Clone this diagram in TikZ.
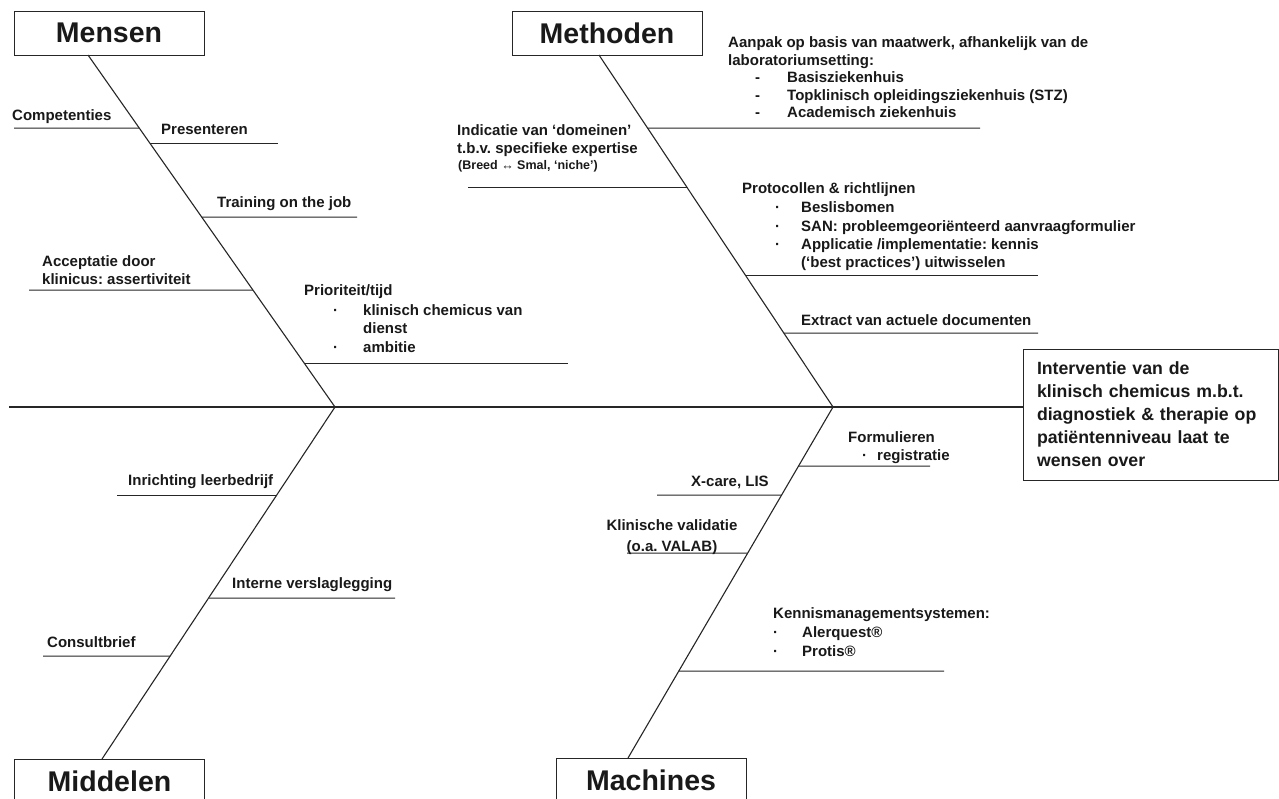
\documentclass[tikz,border=0pt]{standalone}
\usepackage{fontspec}
\setmainfont{Liberation Sans}
\usetikzlibrary{calc}
\frenchspacing
\newcommand{\lblfont}{\fontsize{15}{18}\selectfont\bfseries}
\newcommand{\smallfont}{\fontsize{12.5}{14}\selectfont\bfseries}
\newcommand{\titlefont}{\fontsize{28.5}{32}\selectfont\bfseries}
\newcommand{\effectfont}{\fontsize{17.7}{23}\selectfont\bfseries}
\begin{document}
\begin{tikzpicture}[x=1pt,y=-1pt,
  bone/.style={line width=1.1pt, draw=black!85},
  branch/.style={line width=1pt, draw=black!85},
  titlebox/.style={draw=black!85, line width=1pt, minimum width=190pt, minimum height=44pt, inner sep=0pt, font=\titlefont, text=black!90},
  lbl/.style={inner sep=0pt, anchor=base west, font=\lblfont, text=black!90},
  lblc/.style={inner sep=0pt, anchor=base, font=\lblfont, text=black!90},
  smalllbl/.style={inner sep=0pt, anchor=base west, font=\smallfont, text=black!90},
  effectbox/.style={draw=black!85, line width=1pt, minimum width=255pt, minimum height=131pt, text width=227pt, inner xsep=14pt, inner ysep=0pt, align=left, font=\effectfont, text=black!90}
]
\clip (0,0) rectangle (1279,798);
\fill[white] (0,0) rectangle (1279,798);

% ---- title boxes ----
\node[titlebox] (mensen) at (109,33) {Mensen};
\node[titlebox] (methoden) at (607,33) {Methoden};
\node[titlebox] (middelen) at (109.5,781) {Middelen};
\node[titlebox] (machines) at (651,780) {Machines};

% ---- effect box ----
\node[effectbox] (effect) at (1150.5,414.5) {Interventie van de\\klinisch chemicus m.b.t.\\diagnostiek \& therapie op\\patiëntenniveau laat te\\wensen over};

% ---- spine coordinates ----
\coordinate (start) at (9,407);
\coordinate (J1) at (335,407);
\coordinate (J2) at (833,407);
\coordinate (m0) at (88,55);
\coordinate (t0) at (599,55);
\coordinate (d0) at (102,759);
\coordinate (c0) at (628,758);

% main line
\draw[bone] (start) -- (J1) -- (J2) -- (J2 -| effect.west);
% spines
\draw[bone] (m0) -- (J1);
\draw[bone] (t0) -- (J2);
\draw[bone] (J1) -- (d0);
\draw[bone] (J2) -- (c0);

% ---- Mensen branches ----
\draw[branch] ($(m0)!{73/352}!(J1)$) -- (14,128);
\draw[branch] ($(m0)!{88/352}!(J1)$) -- (278,143);
\draw[branch] ($(m0)!{162/352}!(J1)$) -- (357,217);
\draw[branch] ($(m0)!{235/352}!(J1)$) -- (29,290);
\draw[branch] ($(m0)!{308/352}!(J1)$) -- (568,363);

\node[lbl] (comp) at (12,120) {Competenties};
\node[lbl] (pres) at (161,134) {Presenteren};
\node[lbl] (train) at (217,207) {Training on the job};
\node[lbl] (acc1) at (42,266) {Acceptatie door};
\node[lbl] (acc2) at (42,284) {klinicus: assertiviteit};
\node[lbl] (prio) at (304,295) {Prioriteit/tijd};
\node[lbl] (prb1) at (333,315) {·};
\node[lbl] (pri1) at (363,315) {klinisch chemicus van};
\node[lbl] (pri1b) at (363,333) {dienst};
\node[lbl] (prb2) at (333,352) {·};
\node[lbl] (pri2) at (363,352) {ambitie};

% ---- Methoden branches ----
\draw[branch] ($(t0)!{73/352}!(J2)$) -- (980,128);
\draw[branch] ($(t0)!{132/352}!(J2)$) -- (468,187);
\draw[branch] ($(t0)!{220/352}!(J2)$) -- (1038,275);
\draw[branch] ($(t0)!{278/352}!(J2)$) -- (1038,333);

\node[lbl] (aan1) at (728,47) {Aanpak op basis van maatwerk, afhankelijk van de};
\node[lbl] (aan2) at (728,65) {laboratoriumsetting:};
\node[lbl] (ad1) at (755,82) {-};
\node[lbl] (ai1) at (787,82) {Basisziekenhuis};
\node[lbl] (ad2) at (755,100) {-};
\node[lbl] (ai2) at (787,100) {Topklinisch opleidingsziekenhuis (STZ)};
\node[lbl] (ad3) at (755,117) {-};
\node[lbl] (ai3) at (787,117) {Academisch ziekenhuis};

\node[lbl] (ind1) at (457,135) {Indicatie van ‘domeinen’};
\node[lbl] (ind2) at (457,153) {t.b.v. specifieke expertise};
\node[smalllbl] (ind3) at (458,169) {(Breed ↔ Smal, ‘niche’)};

\node[lbl] (prot) at (742,193) {Protocollen \& richtlijnen};
\node[lbl] (pb1) at (775,212) {·};
\node[lbl] (pi1) at (801,212) {Beslisbomen};
\node[lbl] (pb2) at (775,231) {·};
\node[lbl] (pi2) at (801,231) {SAN: probleemgeoriënteerd aanvraagformulier};
\node[lbl] (pb3) at (775,249) {·};
\node[lbl] (pi3) at (801,249) {Applicatie /implementatie: kennis};
\node[lbl] (pi3b) at (801,267) {(‘best practices’) uitwisselen};

\node[lbl] (extr) at (801,325) {Extract van actuele documenten};

% ---- Middelen branches ----
\draw[branch] ($(J1)!{88/352}!(d0)$) -- (117,495);
\draw[branch] ($(J1)!{191/352}!(d0)$) -- (395,598);
\draw[branch] ($(J1)!{249/352}!(d0)$) -- (43,656);

\node[lbl] (inr) at (128,485) {Inrichting leerbedrijf};
\node[lbl] (int) at (232,588) {Interne verslaglegging};
\node[lbl] (cons) at (47,647) {Consultbrief};

% ---- Machines branches ----
\draw[branch] ($(J2)!{59/351}!(c0)$) -- (930,466);
\draw[branch] ($(J2)!{88/351}!(c0)$) -- (657,495);
\draw[branch] ($(J2)!{146/351}!(c0)$) -- (627,553);
\draw[branch] ($(J2)!{264/351}!(c0)$) -- (944,671);

\node[lbl] (form) at (848,442) {Formulieren};
\node[lbl] (fb1) at (862,460) {·};
\node[lbl] (fi1) at (877,460) {registratie};
\node[lbl] (xcare) at (691,486) {X-care, LIS};
\node[lblc] (klin1) at (672,530) {Klinische validatie};
\node[lblc] (klin2) at (672,551) {(o.a. VALAB)};
\node[lbl] (kenn) at (773,618) {Kennismanagementsystemen:};
\node[lbl] (kb1) at (773,637) {·};
\node[lbl] (ki1) at (802,637) {Alerquest®};
\node[lbl] (kb2) at (773,656) {·};
\node[lbl] (ki2) at (802,656) {Protis®};
\end{tikzpicture}
\end{document}
